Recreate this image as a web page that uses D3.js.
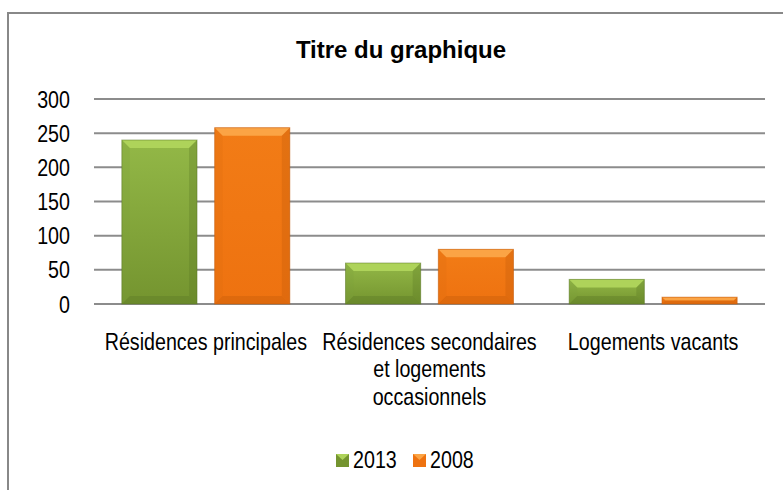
<!DOCTYPE html>
<html>
<head>
<meta charset="utf-8">
<script src="https://cdn.jsdelivr.net/npm/d3@7"></script>
<style>
  body { margin: 0; background: #fff; }
  text { font-family: "Liberation Sans", Arial, sans-serif; fill: #000; }
</style>
</head>
<body>
<div id="chart"></div>
<script>
// Data
const categories = [
  ["Résidences principales"],
  ["Résidences secondaires", "et logements", "occasionnels"],
  ["Logements vacants"]
];
const seriesNames = ["2013", "2008"];
const values2013 = [240, 60, 36];
const values2008 = [258, 80, 10];
const yTicks = [0, 50, 100, 150, 200, 250, 300];

const width = 783, height = 490;
const margin = {top: 99, right: 18, bottom: 186, left: 94};
const innerW = width - margin.left - margin.right;
const innerH = height - margin.top - margin.bottom;
const narrow = 0.82; // the original uses a condensed face

const colors = {
  "2013": {top: "#aed35a", body1: "#93b847", body2: "#74942f", bottom: "#5a7626", side: "#7d9f3a"},
  "2008": {top: "#fba445", body1: "#f27c16", body2: "#ee7210", bottom: "#c0580a", side: "#dc6a0e"}
};

const svg = d3.select("#chart")
  .append("svg")
  .attr("width", width)
  .attr("height", height);

// Outer frame
svg.append("rect")
  .attr("x", 8).attr("y", 13)
  .attr("width", 800).attr("height", 500)
  .attr("fill", "none")
  .attr("stroke", "#888")
  .attr("stroke-width", 2);

// Title
svg.append("text")
  .attr("x", 401).attr("y", 58)
  .attr("text-anchor", "middle")
  .style("font-weight", "bold")
  .style("font-size", "24px")
  .text("Titre du graphique");

const defs = svg.append("defs");
seriesNames.forEach(s => {
  const gr = defs.append("linearGradient")
    .attr("id", "grad" + s)
    .attr("x1", 0).attr("y1", 0).attr("x2", 0).attr("y2", 1);
  gr.append("stop").attr("offset", "0%").attr("stop-color", colors[s].body1);
  gr.append("stop").attr("offset", "100%").attr("stop-color", colors[s].body2);
});

const g = svg.append("g")
  .attr("transform", "translate(" + margin.left + "," + margin.top + ")");

// Scales
const x0 = d3.scaleBand()
  .domain(d3.range(categories.length))
  .range([0, innerW]);

const x1 = d3.scaleBand()
  .domain(seriesNames)
  .range([0, x0.bandwidth()])
  .paddingInner(0.19)
  .paddingOuter(0.30);

const y = d3.scaleLinear()
  .domain([0, 300])
  .range([innerH, 0]);

// Gridlines
g.append("g")
  .selectAll("line")
  .data(yTicks)
  .enter().append("line")
  .attr("x1", 0).attr("x2", innerW)
  .attr("y1", d => y(d)).attr("y2", d => y(d))
  .attr("stroke", "#8c8c8c")
  .attr("stroke-width", 2);

// Y axis labels (condensed)
g.append("g")
  .selectAll("text")
  .data(yTicks)
  .enter().append("text")
  .attr("text-anchor", "end")
  .attr("dy", "0.36em")
  .attr("transform", d => "translate(-24," + y(d) + ") scale(" + narrow + ",1)")
  .style("font-size", "24px")
  .text(d => d);

// Bars
const data = [];
categories.forEach((c, i) => {
  data.push({cat: i, series: "2013", value: values2013[i]});
  data.push({cat: i, series: "2008", value: values2008[i]});
});

const bars = g.selectAll(".bar")
  .data(data)
  .enter().append("g")
  .attr("class", "bar")
  .attr("transform", d => "translate(" + (x0(d.cat) + x1(d.series)) + ",0)");

const bw = x1.bandwidth();

bars.append("rect")
  .attr("x", 0)
  .attr("y", d => y(d.value))
  .attr("width", bw)
  .attr("height", d => innerH - y(d.value))
  .attr("fill", d => "url(#grad" + d.series + ")");

// Bevel edges
function bevel(d) {
  const h = innerH - y(d.value);
  return Math.min(8, h / 2);
}
bars.append("polygon")
  .attr("points", d => {
    const t = y(d.value), b = bevel(d);
    return [[0, t], [bw, t], [bw - b, t + b], [b, t + b]].join(" ");
  })
  .attr("fill", d => colors[d.series].top);
bars.append("polygon")
  .attr("points", d => {
    const t = innerH, b = bevel(d);
    return [[0, t], [bw, t], [bw - b, t - b], [b, t - b]].join(" ");
  })
  .attr("fill", d => colors[d.series].bottom)
  .attr("opacity", 0.35);
bars.append("polygon")
  .attr("points", d => {
    const t = y(d.value), b = bevel(d);
    return [[bw, t], [bw, innerH], [bw - b, innerH - b], [bw - b, t + b]].join(" ");
  })
  .attr("fill", d => colors[d.series].bottom)
  .attr("opacity", 0.3);
bars.append("polygon")
  .attr("points", d => {
    const t = y(d.value), b = bevel(d);
    return [[0, t], [0, innerH], [b, innerH - b], [b, t + b]].join(" ");
  })
  .attr("fill", d => colors[d.series].side)
  .attr("opacity", 0.25);
bars.append("rect")
  .attr("x", 0)
  .attr("y", d => y(d.value))
  .attr("width", bw)
  .attr("height", d => innerH - y(d.value))
  .attr("fill", "none")
  .attr("stroke", d => colors[d.series].bottom)
  .attr("stroke-opacity", 0.5)
  .attr("stroke-width", 1);

// Category labels (condensed)
const catLabels = g.selectAll(".cat")
  .data(categories)
  .enter().append("text")
  .attr("class", "cat")
  .attr("text-anchor", "middle")
  .attr("transform", (d, i) => "translate(" + (x0(i) + x0.bandwidth() / 2) + "," + (innerH + 46) + ") scale(" + narrow + ",1)")
  .style("font-size", "24px");
catLabels.selectAll("tspan")
  .data(d => d)
  .enter().append("tspan")
  .attr("x", 0)
  .attr("dy", (d, i) => i === 0 ? 0 : 27.5)
  .text(d => d);

// Legend
const legend = svg.append("g")
  .attr("transform", "translate(336,468)");
const items = legend.selectAll("g")
  .data(seriesNames)
  .enter().append("g")
  .attr("transform", (d, i) => "translate(" + (i * 77) + ",0)");
items.append("rect")
  .attr("x", 0).attr("y", -14)
  .attr("width", 13).attr("height", 13)
  .attr("fill", d => colors[d].body2);
items.append("polygon")
  .attr("points", "0,-14 13,-14 6.5,-8")
  .attr("fill", d => colors[d].top);
items.append("text")
  .attr("transform", "translate(17,0) scale(" + narrow + ",1)")
  .style("font-size", "24px")
  .text(d => d);
</script>
</body>
</html>
